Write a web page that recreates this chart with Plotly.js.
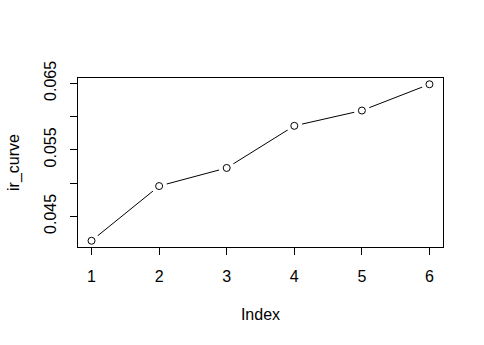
<!DOCTYPE html>
<html><head><meta charset="utf-8">
<script src="https://cdn.plot.ly/plotly-3.0.1.min.js"></script>
<style>html,body{margin:0;padding:0;background:#fff}</style>
</head><body><div id="chart" style="width:484px;height:345px"></div>
<script>
const index = [1, 2, 3, 4, 5, 6];
const irCurve = [0.04133, 0.04955, 0.05227, 0.0586, 0.0609, 0.06485];
const yTickVals = [0.045, 0.05, 0.055, 0.06, 0.065];
const yTickText = ['0.045', '', '0.055', '', '0.065'];
const xTickVals = [1, 2, 3, 4, 5, 6];

const font = {family: 'Liberation Sans, Arial, sans-serif', size: 16, color: '#000'};
const traces = [
  {x: index, y: irCurve, mode: 'lines', line: {color: '#000', width: 1}, hoverinfo: 'skip'},
  {x: index, y: irCurve, mode: 'markers', marker: {symbol: 'circle', size: 16, color: '#fff', line: {width: 0}}, hoverinfo: 'skip'},
  {x: index, y: irCurve, mode: 'markers', marker: {symbol: 'circle-open', size: 7, color: '#000', line: {width: 1, color: '#000'}}}
];
const layout = {
  width: 484, height: 345,
  margin: {l: 78, r: 41, t: 78, b: 98, pad: 0},
  paper_bgcolor: '#fff', plot_bgcolor: '#fff',
  showlegend: false,
  font: font,
  xaxis: {
    range: [0.8, 6.2], tickvals: xTickVals, ticks: 'outside', ticklen: 7, tickcolor: '#000', tickwidth: 1,
    showline: true, linecolor: '#000', linewidth: 1, mirror: true, showgrid: false, zeroline: false,
    ticklabelstandoff: 8,
    title: {text: 'Index', font: font, standoff: 24}
  },
  yaxis: {
    range: [0.04039, 0.06579], tickvals: yTickVals, ticktext: yTickText, tickangle: -90,
    ticks: 'outside', ticklen: 7, tickcolor: '#000', tickwidth: 1,
    showline: true, linecolor: '#000', linewidth: 1, mirror: true, showgrid: false, zeroline: false,
    ticklabelstandoff: 8,
    title: {text: 'ir_curve', font: font, standoff: 17}
  }
};
Plotly.newPlot('chart', traces, layout, {displayModeBar: false, staticPlot: true});
</script></body></html>
